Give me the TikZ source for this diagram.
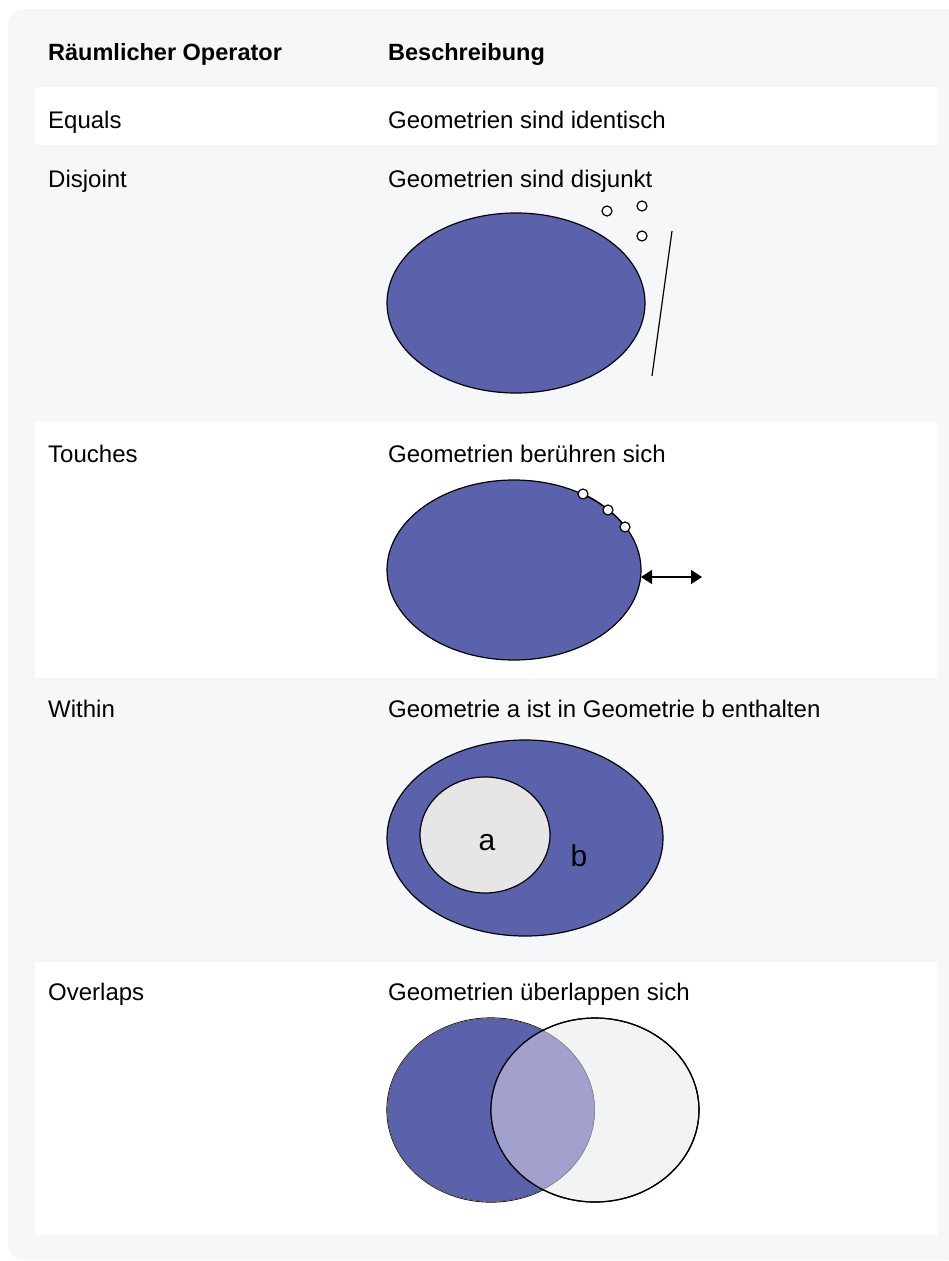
\documentclass[tikz,border=0pt]{standalone}
\usepackage{fontspec}
\setmainfont{Liberation Sans}
\usetikzlibrary{arrows.meta,shapes.geometric}

\definecolor{pagegray}{HTML}{F6F7F9}
\definecolor{geoblue}{HTML}{5B62AC}
\definecolor{holegray}{HTML}{E6E6E6}
\definecolor{lightgeo}{HTML}{F2F3F3}
\definecolor{mixgeo}{HTML}{A2A0CC}

\tikzset{
  op/.style={anchor=base west, inner sep=0pt, font=\fontsize{24}{28}\selectfont},
  headtxt/.style={op, font=\fontsize{23.5}{28}\selectfont\bfseries},
  row/.style={fill=white, draw=none},
  geo/.style={ellipse, draw=black, line width=1.2pt, fill=geoblue, inner sep=0pt},
  pt/.style={circle, draw=black, line width=1.2pt, fill=white, minimum size=10pt, inner sep=0pt},
  letter/.style={inner sep=0pt, font=\fontsize{30}{34}\selectfont},
}

\begin{document}
\begin{tikzpicture}[x=1pt, y=-1pt]
  \useasboundingbox (0,0) rectangle (949,1261);
  \fill[pagegray, rounded corners=16pt] (8,9) rectangle (962,1260);
  % white rows
  \fill[row] (35,87) rectangle (938,145);
  \fill[row] (35,422) rectangle (938,678);
  \fill[row] (35,962) rectangle (938,1235);
  %
  \node[headtxt] (hop) at (48,60) {Räumlicher Operator};
  \node[headtxt] (hdesc) at (388,60) {Beschreibung};
  \node[op] (equals) at (48,128) {Equals};
  \node[op] (equalsD) at (388,128) {Geometrien sind identisch};
  \node[op] (disjoint) at (48,187) {Disjoint};
  \node[op] (disjointD) at (388,187) {Geometrien sind disjunkt};
  \node[op] (touches) at (48,462) {Touches};
  \node[op] (touchesD) at (388,462) {Geometrien berühren sich};
  \node[op] (within) at (48,717) {Within};
  \node[op] (withinD) at (388,717) {Geometrie a ist in Geometrie b enthalten};
  \node[op] (overlaps) at (48,1000) {Overlaps};
  \node[op] (overlapsD) at (388,1000) {Geometrien überlappen sich};

  % Disjoint
  \node[geo, minimum width=258pt, minimum height=180pt] (disA) at (516,303) {};
  \node[pt] (dis1) at (607,211) {};
  \node[pt] (dis2) at (642,206) {};
  \node[pt] (dis3) at (642,236) {};
  \coordinate (disL1) at (672,231);
  \coordinate (disL2) at (652,376);
  \draw[line width=1.2pt] (disL1) -- (disL2);

  % Touches
  \node[geo, minimum width=254pt, minimum height=180pt] (touA) at (514,570) {};
  \draw[line width=1.2pt] (583,494) to[bend left=8] (608,510) to[bend left=8] (625,527);
  \node[pt] (tou1) at (583,494) {};
  \node[pt] (tou2) at (608,510) {};
  \node[pt] (tou3) at (625,527) {};
  \coordinate (touE) at (702,577);
  \draw[line width=1.5pt, {Triangle[length=11pt,width=14pt]}-{Triangle[length=11pt,width=14pt]}] (641,577) -- (touE);

  % Within
  \node[geo, minimum width=276pt, minimum height=196pt] (witB) at (525,838) {};
  \node[geo, fill=holegray, minimum width=130pt, minimum height=116pt] (witA) at (485,835) {};
  \node[letter] (la) at (487,843) {a};
  \node[letter] (lb) at (579,856) {b};

  % Overlaps
  \node[geo, minimum width=208pt, minimum height=184pt] (ovA) at (491,1110) {};
  \node[geo, fill=lightgeo, minimum width=208pt, minimum height=184pt] (ovB) at (595,1110) {};
  \begin{scope}
    \clip (491,1110) ellipse [x radius=104, y radius=92];
    \fill[mixgeo] (595,1110) ellipse [x radius=104, y radius=92];
    \draw[line width=1.2pt, black!50] (491,1110) ellipse [x radius=104, y radius=92];
  \end{scope}
  \draw[line width=1.2pt] (595,1110) ellipse [x radius=104, y radius=92];
\end{tikzpicture}
\end{document}
